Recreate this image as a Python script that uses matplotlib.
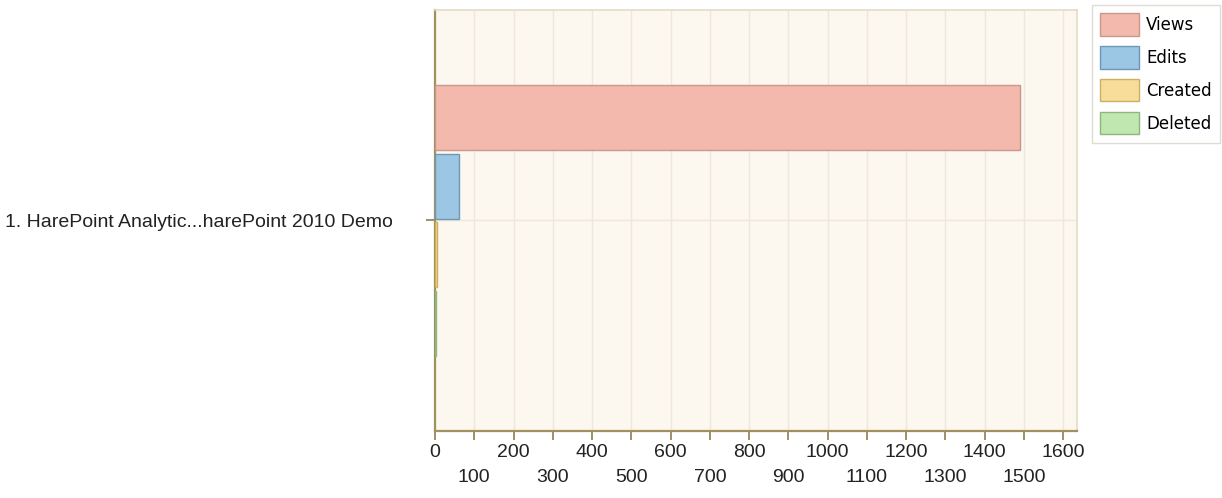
import numpy as np
import matplotlib
matplotlib.use("Agg")
import matplotlib.pyplot as plt

# data
category = "1. HarePoint Analytic...harePoint 2010 Demo"
series = ["Views", "Edits", "Created", "Deleted"]
values = [1490, 60, 4, 2]
even_ticks = list(range(0, 1700, 200))
odd_ticks = list(range(100, 1600, 200))

fill_colors = ["#F2B9AC", "#9BC7E4", "#F7DC9A", "#BFE7AF"]
edge_colors = ["#C9978C", "#6F98B6", "#CDB060", "#8DB77E"]

plt.rcParams['font.family'] = ['Liberation Sans', 'DejaVu Sans']

fig = plt.figure(figsize=(12.22, 4.98), dpi=100)
ax = fig.add_axes([435/1222, 67/498, 642/1222, 421/498])
ax.set_facecolor("#FCF8EF")

bar_h = 0.154
step = 0.163
offsets = (np.arange(len(series)) - 1.5) * step
for i, (name, v) in enumerate(zip(series, values)):
    ax.barh(offsets[i], v, height=bar_h, color=fill_colors[i],
            edgecolor=edge_colors[i], linewidth=1.0, label=name, zorder=3)

ax.set_ylim(0.5, -0.5)
ax.set_xlim(0, 1635)
ax.set_yticks([0])
ax.set_yticklabels([category], fontsize=14, color="#222222")
ax.tick_params(axis="y", direction="out", length=6.5, width=1.2,
               color="#8C7E52", pad=24)

# two rows of x labels: even hundreds on top row, odd below
ax.set_xticks(even_ticks)
ax.set_xticks(odd_ticks, minor=True)
ax.set_xticklabels([str(v) for v in even_ticks])
ax.set_xticklabels([str(v) for v in odd_ticks], minor=True)
ax.tick_params(axis="x", which="both", direction="out", length=6.5, width=1.2,
               color="#8C7E52", labelsize=14, labelcolor="#222222")
ax.tick_params(axis="x", which="major", pad=3)
ax.tick_params(axis="x", which="minor", pad=21)

ax.grid(True, axis="x", which="both", color="#EEE8DA", linewidth=1.0, zorder=0)
ax.grid(True, axis="y", color="#EEE8DA", linewidth=1.0, zorder=0)
ax.set_axisbelow(True)

for side in ["left", "bottom"]:
    ax.spines[side].set_color("#A0915E")
    ax.spines[side].set_linewidth(1.6)
for side in ["top", "right"]:
    ax.spines[side].set_color("#E4DCC6")
    ax.spines[side].set_linewidth(1.2)

leg = fig.legend(loc="upper left", bbox_to_anchor=(1092/1222, 1 - 5/498),
                 frameon=True, fancybox=False,
                 handlelength=2.3, handleheight=1.7, handletextpad=0.45,
                 labelspacing=0.62, borderpad=0.5, borderaxespad=0,
                 prop={'family': 'DejaVu Sans', 'size': 12})
leg.get_frame().set_edgecolor("#D8D4C8")
leg.get_frame().set_linewidth(1.0)

fig.savefig("out.png", dpi=100, facecolor="white")
